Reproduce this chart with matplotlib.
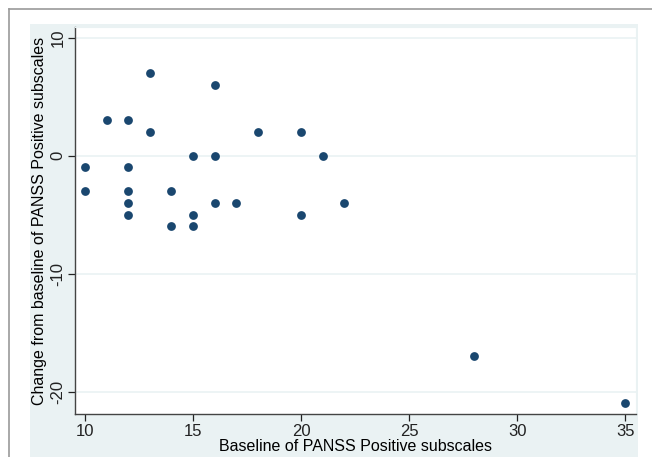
import matplotlib.pyplot as plt
from matplotlib.patches import Rectangle
from matplotlib.lines import Line2D

# Baseline PANSS positive vs change from baseline
baseline = [10, 10, 11, 12, 12, 12, 12, 12, 13, 13, 14, 14, 15, 15, 15,
            16, 16, 16, 17, 18, 20, 20, 21, 22, 28, 35]
change = [-1, -3, 3, 3, -1, -3, -4, -5, 7, 2, -3, -6, 0, -5, -6,
          6, 0, -4, -4, 2, 2, -5, 0, -4, -17, -21]

x_ticks = [10, 15, 20, 25, 30, 35]
y_ticks = [-20, -10, 0, 10]

plt.rcParams['font.family'] = ['Liberation Sans', 'DejaVu Sans']

W, H = 652, 457
fig = plt.figure(figsize=(W / 100, H / 100), dpi=100)
fig.patch.set_facecolor('white')

# outer frame lines (top and left)
fig.add_artist(Line2D([9 / W, 1], [1 - 9 / H, 1 - 9 / H], color='#9a9a9a', lw=1.2))
fig.add_artist(Line2D([9 / W, 9 / W], [0, 1 - 9 / H], color='#9a9a9a', lw=1.2))

# Stata-like graph region
fig.add_artist(Rectangle((30 / W, 0), (638 - 30) / W, (H - 24) / H,
                         transform=fig.transFigure, facecolor='#eaf2f3',
                         edgecolor='none', zorder=0))

ax = fig.add_axes([75 / W, (H - 414) / H, (636 - 75) / W, (414 - 27) / H])
ax.set_facecolor('white')

ax.scatter(baseline, change, s=40, color='#1a476f', zorder=3, linewidths=0)

ax.set_xlim(9.54, 35.5)
ax.set_ylim(-21.9, 10.9)
ax.set_xticks(x_ticks)
ax.set_yticks(y_ticks)
ax.set_yticklabels([str(v) for v in y_ticks], rotation=90, va='center')

ax.grid(axis='y', color='#eaf2f3', lw=1.2)
ax.set_axisbelow(True)

for s in ['top', 'right']:
    ax.spines[s].set_color('#eaf2f3')
for s in ['left', 'bottom']:
    ax.spines[s].set_color('#444444')
    ax.spines[s].set_linewidth(1.0)

ax.tick_params(axis='both', labelsize=12, colors='#222222', length=5,
               width=0.9, direction='out', pad=2)

ax.set_xlabel('Baseline of PANSS Positive subscales', fontsize=11.5, labelpad=0)
ax.set_ylabel('Change from baseline of PANSS Positive subscales', fontsize=11.5, labelpad=2)

fig.savefig('out.png', dpi=100)
